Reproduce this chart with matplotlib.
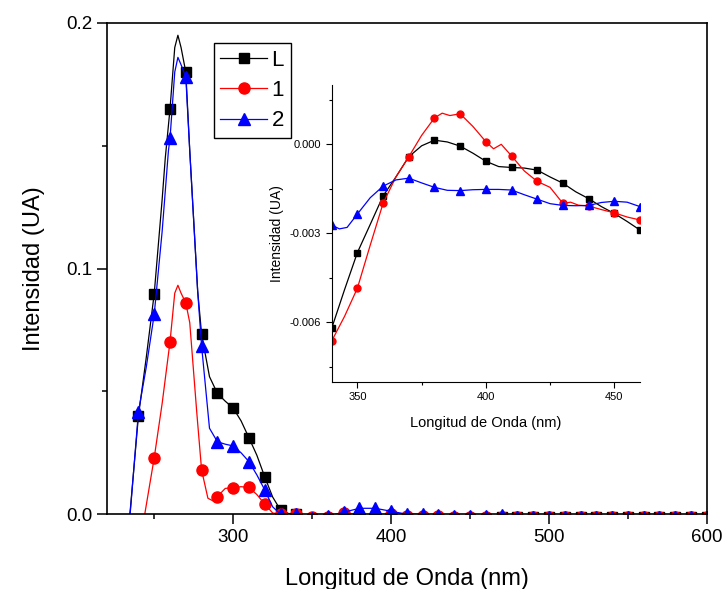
import numpy as np
import matplotlib
matplotlib.use('Agg')
import matplotlib.pyplot as plt
from matplotlib.ticker import MultipleLocator, FormatStrFormatter

plt.rcParams['font.family'] = ['Liberation Sans', 'DejaVu Sans']
plt.rcParams['axes.unicode_minus'] = False

# main spectrum, fine points around the band (nm, UA)
wl_L = [230, 235, 240, 245, 250, 255, 257, 260, 263, 265, 267, 270, 272.5, 277.5, 280,
        285, 290, 295, 300, 305, 310, 315, 320, 325, 330, 335, 340]
int_L = [-0.03, 0.003, 0.040, 0.064, 0.0898, 0.128, 0.145, 0.165, 0.190, 0.195, 0.190, 0.180,
         0.148, 0.091, 0.0733, 0.056, 0.0492, 0.046, 0.0432, 0.038, 0.0311, 0.024, 0.0152,
         0.007, 0.0017, 0.0003, 0.0]

wl_1 = [240, 244, 250, 255, 260, 263, 265, 267, 270, 272.5, 277, 280, 284, 287, 290,
        295, 300, 305, 310, 315, 320, 325, 330, 335, 340]
int_1 = [-0.015, 0.0, 0.023, 0.045, 0.0702, 0.090, 0.0932, 0.090, 0.086, 0.078, 0.041,
         0.018, 0.0065, 0.0055, 0.0072, 0.0105, 0.0108, 0.0112, 0.0109, 0.008, 0.0041,
         0.0005, 0.0, 0.0, 0.0]

wl_2 = [230, 235, 240, 245, 250, 255, 259, 260, 263, 265, 267, 270, 272.5, 277.5, 280,
        285, 290, 295, 300, 305, 310, 315, 320, 325, 330, 335, 340]
int_2 = [-0.03, 0.002, 0.0417, 0.060, 0.0814, 0.115, 0.148, 0.153, 0.180, 0.186, 0.183,
         0.178, 0.148, 0.091, 0.0685, 0.035, 0.0295, 0.0285, 0.0278, 0.025, 0.0214, 0.016,
         0.0099, 0.003, 0.0, 0.0, 0.0]

# tail 350-600 nm, values near zero
wl_tail = list(range(350, 610, 10))
tail_L = [-0.0025] * 12 + [-0.0012] * 14
tail_1 = [-0.001, -0.001, 0.0006, -0.0005, -0.0005, 0.0002, -0.0006, -0.0006, -0.0006,
          -0.001, -0.001, -0.001] + [-0.001] * 14
tail_2 = [-0.0015, -0.0008, 0.0008, 0.0024, 0.0024, 0.0012, 0.0, 0.0, -0.0004, -0.0008,
          -0.0008, -0.0008] + [-0.0004] + [-0.001] * 13

# inset: zoom of 340-460 nm
wl_in = [340, 345, 350, 355, 360, 365, 370, 375, 380, 385, 390, 395, 400, 405, 410,
         415, 420, 425, 430, 435, 440, 445, 450, 455, 460]
in_L = [-0.0062, -0.0049, -0.00365, -0.0027, -0.00174, -0.0011, -0.00042, -0.00005,
        0.00014, 0.00008, -0.00006, -0.0003, -0.00057, -0.00075, -0.00078, -0.0008,
        -0.00087, -0.0011, -0.00131, -0.0016, -0.00183, -0.0021, -0.00233, -0.0026, -0.00289]

wl_in1 = [340, 345, 350, 355, 360, 365, 370, 375, 380, 383, 386, 390, 395, 400, 403, 406,
          410, 415, 420, 425, 430, 433, 436, 440, 445, 450, 455, 460]
in_1 = [-0.00663, -0.0058, -0.00485, -0.0034, -0.00199, -0.0011, -0.00042, 0.0003,
        0.00089, 0.00105, 0.00097, 0.00103, 0.0006, 0.00009, -0.00015, 0.0, -0.00039,
        -0.0009, -0.00125, -0.00145, -0.00199, -0.00195, -0.00205, -0.00208, -0.0022,
        -0.00231, -0.00245, -0.00255]

wl_in2 = [340, 343, 346, 350, 355, 360, 365, 370, 375, 380, 385, 390, 395, 400, 405, 410,
          415, 420, 425, 430, 435, 440, 445, 450, 455, 460]
in_2 = [-0.00272, -0.00285, -0.0028, -0.00235, -0.0018, -0.00141, -0.0012, -0.00114,
        -0.0013, -0.00145, -0.00155, -0.00156, -0.00153, -0.00152, -0.00152, -0.00154,
        -0.0017, -0.00185, -0.002, -0.00206, -0.00207, -0.00206, -0.00196, -0.00192,
        -0.00195, -0.0021]

series = [
    ('L', 'black', 's', 7.2, 4.3, wl_L, int_L, tail_L, wl_in, in_L),
    ('1', 'red', 'o', 8.0, 5.0, wl_1, int_1, tail_1, wl_in1, in_1),
    ('2', 'blue', '^', 8.5, 5.2, wl_2, int_2, tail_2, wl_in2, in_2),
]

fig = plt.figure(figsize=(7.22, 5.89), dpi=100)
ax = fig.add_axes([0.148, 0.127, 0.831, 0.834])

for name, c, m, ms, ms_in, x, y, tail, xi, yi in series:
    x = np.array(x + wl_tail, dtype=float)
    y = np.array(y + tail)
    mk = (x % 10 == 0) & (x >= 240)
    ax.plot(x, y, color=c, lw=0.9)
    ax.plot(x[mk], y[mk], ls='none', marker=m, ms=ms, color=c)
    # legend proxy
    ax.plot([], [], color=c, lw=0.9, marker=m, ms=ms, label=name)

ax.set_xlim(220, 600)
ax.set_ylim(0, 0.2)
ax.xaxis.set_major_locator(MultipleLocator(100))
ax.xaxis.set_minor_locator(MultipleLocator(50))
ax.yaxis.set_major_locator(MultipleLocator(0.1))
ax.yaxis.set_minor_locator(MultipleLocator(0.05))
ax.yaxis.set_major_formatter(FormatStrFormatter('%.1f'))
ax.tick_params(which='both', direction='out', top=False, right=False, width=1.1, labelsize=13.5)
ax.tick_params(which='major', length=7)
ax.tick_params(which='minor', length=3.6)
for s in ax.spines.values():
    s.set_linewidth(1.2)
ax.set_xlabel('Longitud de Onda (nm)', fontsize=17, labelpad=16)
ax.set_ylabel('Intensidad (UA)', fontsize=17, labelpad=15)

leg = ax.legend(loc='upper left', bbox_to_anchor=(0.178, 0.959), fontsize=16,
                frameon=True, fancybox=False, edgecolor='black', framealpha=1,
                borderaxespad=0, borderpad=0.3, handlelength=2.1, handletextpad=0.2,
                labelspacing=0.42)
leg.get_frame().set_linewidth(1.0)

# inset
axi = fig.add_axes([0.4594, 0.352, 0.427, 0.5037])
axi.set_facecolor('none')
for name, c, m, ms, ms_in, x, y, tail, xi, yi in series:
    xi = np.array(xi, dtype=float)
    yi = np.array(yi)
    mk = xi % 10 == 0
    axi.plot(xi, yi, color=c, lw=0.9)
    axi.plot(xi[mk], yi[mk], ls='none', marker=m, ms=ms_in, color=c)

axi.set_xlim(340, 460)
axi.set_ylim(-0.008, 0.002)
axi.spines['top'].set_visible(False)
axi.spines['right'].set_visible(False)
for s in ['left', 'bottom']:
    axi.spines[s].set_linewidth(0.8)
axi.xaxis.set_major_locator(MultipleLocator(50))
axi.xaxis.set_minor_locator(MultipleLocator(25))
axi.yaxis.set_major_locator(MultipleLocator(0.003))
axi.yaxis.set_minor_locator(MultipleLocator(0.0015))
axi.yaxis.set_major_formatter(FormatStrFormatter('%.3f'))
axi.tick_params(which='both', direction='out', width=0.8, labelsize=8)
axi.tick_params(which='major', length=4)
axi.tick_params(which='minor', length=2.5)
axi.set_xlabel('Longitud de Onda (nm)', fontsize=10.5, labelpad=10)
axi.set_ylabel('Intensidad (UA)', fontsize=10, labelpad=4)

fig.savefig('out.png', dpi=100)
